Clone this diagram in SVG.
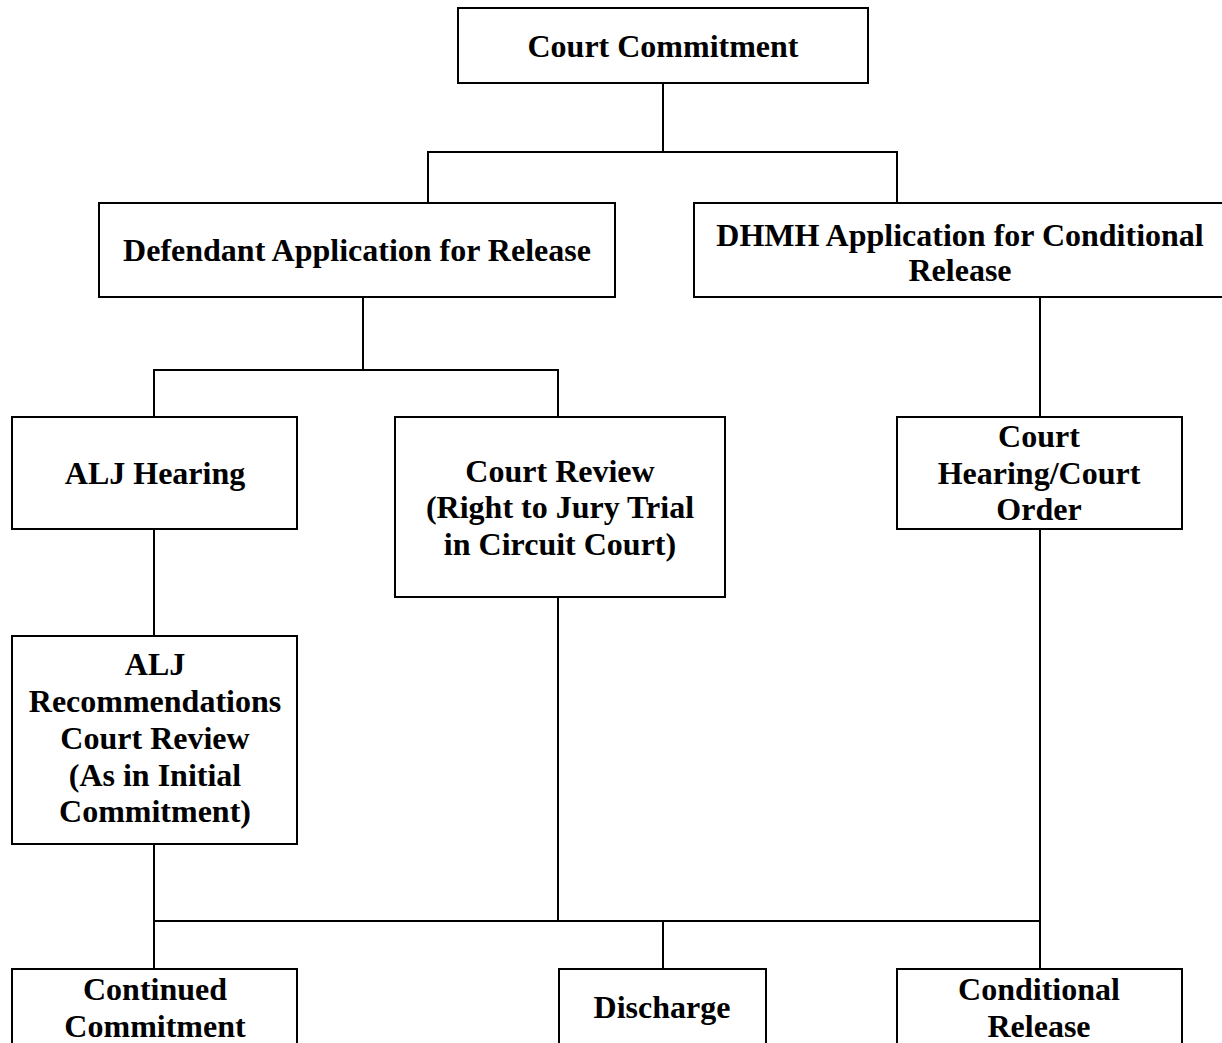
<svg xmlns="http://www.w3.org/2000/svg" width="1222" height="1043" viewBox="0 0 1222 1043">
<style>
.box{fill:#fff;stroke:#000;stroke-width:2}
.t{font-family:"Liberation Serif","Times New Roman",serif;font-weight:bold;font-size:32px;text-anchor:middle;fill:#000}
.c{fill:none;stroke:#000;stroke-width:2}
</style>
<rect width="1222" height="1043" fill="#fff"/>
<g id="connectors">
<path class="c" d="M663,83V152M428,203V152H897V203"/>
<path class="c" d="M363,297V370M154,417V370H558V417"/>
<path class="c" d="M1040,297V417"/>
<path class="c" d="M154,529V636"/>
<path class="c" d="M154,844V969M558,597V921M1040,529V969M154,921H1040M663,921V969"/>
</g>
<g id="court-commitment"><rect class="box" x="458" y="8" width="410" height="75"/><text class="t" x="663" y="57">Court Commitment</text></g>
<g id="defendant-application"><rect class="box" x="99" y="203" width="516" height="94"/><text class="t" x="357" y="261">Defendant Application for Release</text></g>
<g id="dhmh-application"><rect class="box" x="694" y="203" width="540" height="94"/><text class="t" x="960" y="246">DHMH Application for Conditional</text><text class="t" x="960" y="281">Release</text></g>
<g id="alj-hearing"><rect class="box" x="12" y="417" width="285" height="112"/><text class="t" x="155" y="484">ALJ Hearing</text></g>
<g id="court-review"><rect class="box" x="395" y="417" width="330" height="180"/><text class="t" x="560" y="482">Court Review</text><text class="t" x="560" y="518">(Right to Jury Trial</text><text class="t" x="560" y="555">in Circuit Court)</text></g>
<g id="court-hearing"><rect class="box" x="897" y="417" width="285" height="112"/><text class="t" x="1039" y="447">Court</text><text class="t" x="1039" y="484">Hearing/Court</text><text class="t" x="1039" y="520">Order</text></g>
<g id="alj-recommendations"><rect class="box" x="12" y="636" width="285" height="208"/><text class="t" x="155" y="675">ALJ</text><text class="t" x="155" y="712">Recommendations</text><text class="t" x="155" y="749">Court Review</text><text class="t" x="155" y="786">(As in Initial</text><text class="t" x="155" y="822">Commitment)</text></g>
<g id="continued-commitment"><rect class="box" x="12" y="969" width="285" height="100"/><text class="t" x="155" y="1000">Continued</text><text class="t" x="155" y="1037">Commitment</text></g>
<g id="discharge"><rect class="box" x="559" y="969" width="207" height="100"/><text class="t" x="662" y="1018">Discharge</text></g>
<g id="conditional-release"><rect class="box" x="897" y="969" width="285" height="100"/><text class="t" x="1039" y="1000">Conditional</text><text class="t" x="1039" y="1037">Release</text></g>
</svg>
